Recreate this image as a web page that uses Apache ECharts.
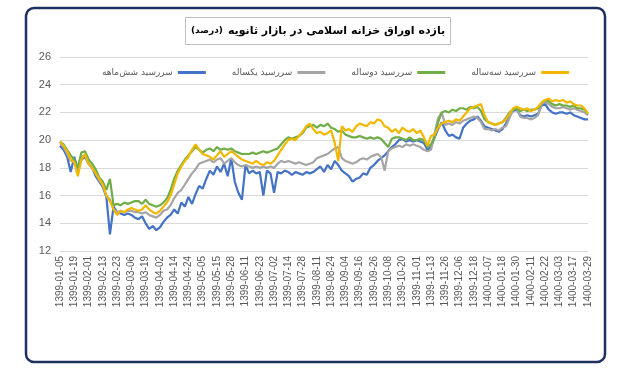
<!DOCTYPE html>
<html><head><meta charset="utf-8">
<script src="https://cdn.jsdelivr.net/npm/echarts@6/dist/echarts.min.js"></script>
<style>html,body{margin:0;padding:0;background:#fff}#c{width:640px;height:389px}</style>
</head><body><div id="c"></div>
<script>
const tickLabels = ['1399-01-05','1399-01-19','1399-02-01','1399-02-13','1399-02-23','1399-03-06','1399-03-19','1399-04-02','1399-04-14','1399-04-24','1399-05-05','1399-05-15','1399-05-28','1399-06-11','1399-06-23','1399-07-02','1399-07-14','1399-07-28','1399-08-11','1399-08-24','1399-09-04','1399-09-16','1399-09-26','1399-10-08','1399-10-20','1399-11-01','1399-11-13','1399-11-26','1399-12-06','1399-12-18','1400-01-07','1400-01-18','1400-01-30','1400-02-11','1400-02-22','1400-03-03','1400-03-17','1400-03-29'];
const seriesNames = ['سررسید شش‌ماهه','سررسید یکساله','سررسید دوساله','سررسید سه‌ساله'];
const sixMonth = [19.6,19.3,18.8,17.7,18.8,17.9,18.6,18.8,18.3,18.0,
17.4,17.0,16.6,15.9,13.2,15.2,14.8,14.7,14.6,14.7,
14.6,14.4,14.3,14.5,14.0,13.6,13.8,13.5,13.7,14.1,
14.4,14.6,15.0,14.7,15.5,15.2,15.9,15.4,16.1,16.7,
16.5,17.2,17.8,17.5,18.1,17.7,18.3,17.4,18.7,17.0,
16.2,15.7,18.2,17.6,17.8,17.6,17.7,16.0,17.8,17.6,
16.2,17.7,17.6,17.8,17.7,17.5,17.7,17.6,17.5,17.7,
17.6,17.7,17.9,18.1,17.7,18.2,17.9,18.5,18.2,17.8,
17.6,17.4,17.0,17.2,17.3,17.6,17.5,18.0,18.2,18.5,
18.7,18.9,19.2,19.5,19.7,20.0,20.1,19.9,20.0,19.9,
20.0,19.9,19.8,19.3,19.5,20.2,20.8,21.3,20.7,20.3,
20.4,20.2,20.1,20.9,21.2,21.4,21.5,21.7,21.4,21.0,
20.9,20.8,20.7,20.6,20.8,21.2,21.8,22.1,22.2,21.8,
21.7,21.8,21.7,21.8,21.9,22.5,22.6,22.2,22.0,21.9,
22.0,22.0,21.9,22.0,21.8,21.7,21.6,21.5,21.5];
const oneYear = [19.8,19.5,19.0,18.5,18.6,17.8,18.8,18.9,18.3,18.0,
17.6,17.1,16.7,16.0,15.7,15.0,14.8,14.9,14.8,14.9,
14.9,14.8,14.8,14.7,14.8,14.6,14.5,14.4,14.6,14.9,
15.0,15.3,15.8,16.2,16.4,16.8,17.2,17.6,17.9,18.3,
18.4,18.5,18.6,18.4,18.6,18.7,18.3,18.5,18.7,18.4,
18.2,18.1,18.2,18.1,18.0,18.1,18.0,18.1,18.0,18.1,
18.0,18.3,18.5,18.4,18.5,18.4,18.3,18.4,18.3,18.2,
18.3,18.4,18.7,18.8,18.9,19.0,19.2,19.4,19.5,18.7,
18.5,18.4,18.3,18.4,18.6,18.7,18.6,18.8,18.9,19.0,
18.8,17.8,19.2,19.4,19.5,19.6,19.5,19.7,19.6,19.7,
19.6,19.5,19.3,19.2,19.3,20.5,21.6,22.0,21.1,21.2,
21.1,21.3,21.2,21.4,21.5,21.6,21.7,21.6,21.3,20.8,
20.8,20.7,20.8,20.7,20.9,21.0,21.6,22.2,22.3,21.7,
21.6,21.6,21.5,21.6,21.8,22.6,22.8,22.6,22.4,22.3,
22.3,22.4,22.3,22.2,22.3,22.2,22.1,22.0,21.8];
const twoYear = [19.9,19.7,19.3,18.9,18.6,18.0,19.1,19.2,18.6,18.3,
17.9,17.3,17.0,16.4,17.2,15.3,15.4,15.3,15.5,15.4,
15.5,15.6,15.6,15.4,15.7,15.4,15.3,15.2,15.3,15.5,
15.8,16.4,17.2,17.8,18.2,18.6,18.9,19.2,19.5,19.3,
19.1,19.3,19.4,19.2,19.5,19.3,19.4,19.3,19.4,19.2,
19.1,19.0,19.0,19.0,19.1,19.0,19.1,19.2,19.1,19.2,
19.3,19.4,19.7,20.0,20.2,20.1,20.2,20.3,20.5,20.9,
21.0,21.1,20.9,21.1,21.0,21.2,20.9,20.8,20.6,20.7,
20.4,20.3,20.2,20.2,20.3,20.2,20.1,20.2,20.1,20.2,
20.1,19.8,19.5,20.1,20.2,20.2,20.1,20.0,20.2,20.0,
20.0,20.1,20.0,19.5,19.7,20.2,21.3,22.0,22.1,22.0,
22.2,22.1,22.3,22.3,22.2,22.4,22.3,22.4,22.1,21.5,
21.3,21.2,21.1,21.2,21.3,21.6,22.0,22.2,22.3,22.1,
22.2,22.1,22.2,22.2,22.3,22.7,22.9,22.8,22.6,22.5,
22.6,22.5,22.5,22.4,22.5,22.3,22.3,22.2,21.9];
const threeYear = [19.9,19.6,19.2,18.6,18.4,17.4,18.6,19.0,18.3,18.0,
17.6,17.2,16.8,16.0,15.6,15.0,14.6,14.9,14.8,15.0,
15.1,15.0,14.9,15.0,15.3,15.0,14.8,14.7,14.9,15.2,
15.5,16.0,16.8,17.6,18.1,18.5,18.8,19.3,19.7,19.3,
19.0,18.9,18.8,18.6,18.9,19.2,18.8,19.0,19.2,19.0,
18.8,18.6,18.5,18.4,18.3,18.5,18.3,18.2,18.4,18.3,
18.5,18.9,19.3,19.7,20.0,20.1,20.0,20.3,20.6,21.0,
21.2,20.8,20.5,20.6,20.4,20.5,20.7,19.8,18.5,21.0,
20.7,20.8,20.6,21.0,21.2,21.1,21.0,21.3,21.2,21.5,
21.4,21.0,20.9,20.6,20.8,20.5,20.9,20.7,20.6,20.8,
20.5,20.7,20.2,19.6,20.3,20.4,20.9,21.2,21.3,21.4,
21.3,21.5,21.4,21.7,22.0,22.3,22.4,22.5,22.6,21.8,
21.3,21.2,21.1,21.2,21.3,21.5,21.9,22.3,22.4,22.3,
22.2,22.3,22.1,22.2,22.4,22.7,22.9,23.0,22.8,22.9,
22.8,22.9,22.7,22.8,22.6,22.5,22.5,22.3,21.9];
const yTicks = {min: 12, max: 26, interval: 2};
const pointsPerLabel = 4;

const categories = [];
tickLabels.forEach((lab, j) => {
  categories.push(lab);
  if (j < tickLabels.length - 1) for (let k = 1; k < pointsPerLabel; k++) categories.push(lab + '+' + k);
});

const colors = ['#4472c4', '#a5a5a5', '#70ad47', '#f2b800'];
const values = [sixMonth, oneYear, twoYear, threeYear];
const FONT = '"DejaVu Sans", "Liberation Sans", sans-serif';

const chart = echarts.init(document.getElementById('c'), null, {renderer: 'canvas'});
chart.setOption({
  animation: false,
  backgroundColor: '#fff',
  title: {
    text: '{s|(درصد)} {b|بازده اوراق خزانه اسلامی در بازار ثانویه}',
    left: 185, top: 17,
    padding: [5, 6, 5, 6],
    borderColor: '#bfbfbf', borderWidth: 1,
    textStyle: {
      rich: {
        b: {fontFamily: FONT, fontSize: 11, fontWeight: 'bold', color: '#000'},
        s: {fontFamily: FONT, fontSize: 9, color: '#000'}
      }
    }
  },
  legend: {
    top: 63, left: 97, width: 540,
    itemGap: 26,
    align: 'right',
    icon: 'rect', itemWidth: 28, itemHeight: 3,
    textStyle: {fontFamily: FONT, fontSize: 9, color: '#595959'},
    data: seriesNames
  },
  grid: {left: 60, right: 52, top: 57, bottom: 138, containLabel: false},
  xAxis: {
    type: 'category', data: categories, boundaryGap: false,
    axisLine: {lineStyle: {color: '#d9d9d9'}},
    axisTick: {show: false},
    axisLabel: {interval: pointsPerLabel - 1, rotate: 90, color: '#595959', fontSize: 10, fontFamily: '"Liberation Sans", Arial, sans-serif', margin: 5}
  },
  yAxis: {
    type: 'value', min: yTicks.min, max: yTicks.max, interval: yTicks.interval,
    axisLine: {show: false}, axisTick: {show: false},
    splitLine: {lineStyle: {color: '#d9d9d9'}},
    axisLabel: {color: '#595959', fontSize: 11, fontFamily: '"Liberation Sans", Arial, sans-serif', margin: 9}
  },
  graphic: [{
    type: 'rect', shape: {x: 26, y: 8, width: 579, height: 354, r: 8},
    style: {fill: 'none', stroke: '#1f3060', lineWidth: 2.5}, z: 100, silent: true
  }],
  series: values.map((v, i) => ({
    name: seriesNames[i], type: 'line', data: v, showSymbol: false, symbol: 'none',
    lineStyle: {width: 2.2, color: colors[i]}, itemStyle: {color: colors[i]}
  }))
});
</script></body></html>
